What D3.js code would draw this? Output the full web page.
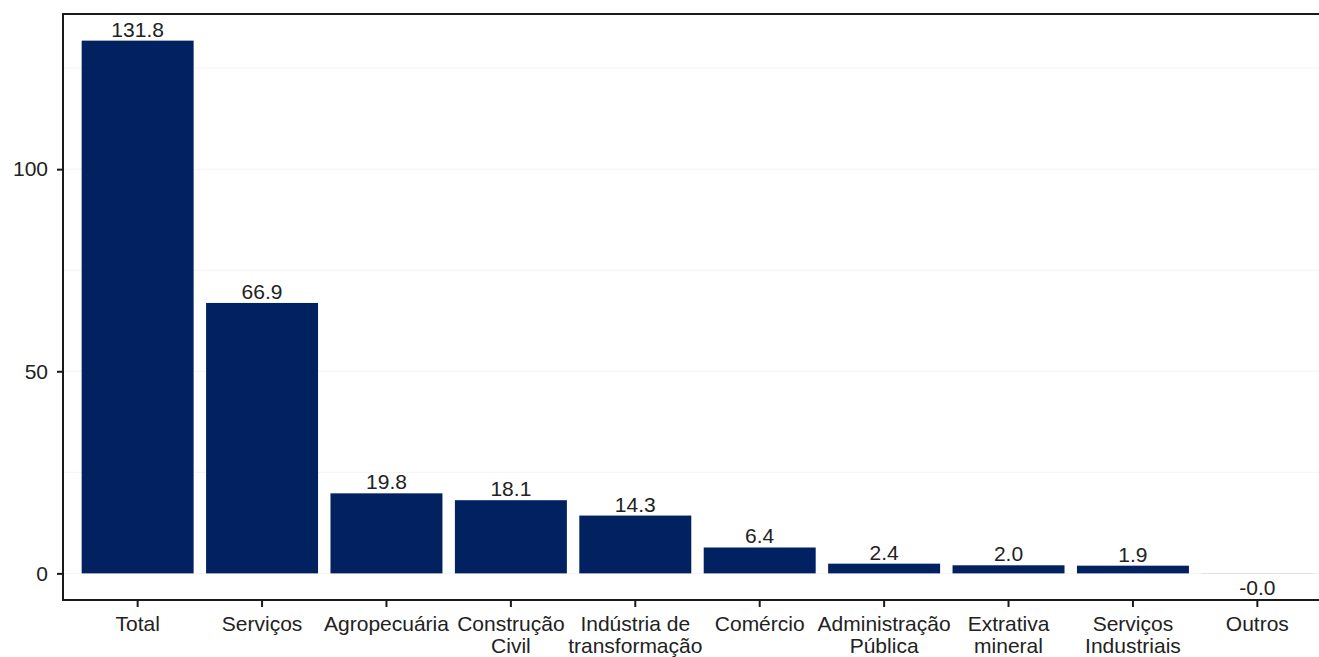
<!DOCTYPE html>
<html>
<head>
<meta charset="utf-8">
<script src="https://cdn.jsdelivr.net/npm/d3@7"></script>
<style>
    body { margin: 0; background: #fff; }
    svg { display: block; font-family: 'Liberation Sans', Arial, sans-serif; }
</style>
</head>
<body>
<svg id="chart" width="1319" height="657"></svg>
<script>
// Categories and values
var categories = ['Total', 'Serviços', 'Agropecuária', 'Construção\nCivil', 'Indústria de\ntransformação',
    'Comércio', 'Administração\nPública', 'Extrativa\nmineral', 'Serviços\nIndustriais', 'Outros'];
var values = [131.8, 66.9, 19.8, 18.1, 14.3, 6.4, 2.4, 2.0, 1.9, -0.02];
var yTicks = [0, 50, 100];
var yMinor = [25, 75, 125];

var svg = d3.select( '#chart' );
var panel = { left: 63, right: 1332, top: 14, bottom: 600 };
var barColor = '#022160';
var textColor = '#222';

var x = d3.scaleBand()
    .domain( categories )
    .range( [panel.left, panel.right] )
    .paddingInner( 0.1 )
    .paddingOuter( 0.15 );

var y = d3.scaleLinear()
    .domain( [-6.59, 138.39] )
    .range( [panel.bottom, panel.top] );

// faint grid lines
svg.append( 'g' )
    .selectAll( 'line' )
    .data( yMinor.concat( yTicks ) )
    .join( 'line' )
    .attr( 'x1', panel.left ).attr( 'x2', panel.right )
    .attr( 'y1', d => y( d ) ).attr( 'y2', d => y( d ) )
    .attr( 'stroke', '#f3f3f3' )
    .attr( 'stroke-width', 1 );

// bars
svg.append( 'g' )
    .selectAll( 'rect' )
    .data( values )
    .join( 'rect' )
    .attr( 'x', ( d, i ) => x( categories[i] ) )
    .attr( 'width', x.bandwidth() )
    .attr( 'y', d => y( Math.max( 0, d ) ) )
    .attr( 'height', d => Math.abs( y( d ) - y( 0 ) ) )
    .attr( 'fill', barColor );

// value labels
svg.append( 'g' )
    .selectAll( 'text' )
    .data( values )
    .join( 'text' )
    .attr( 'x', ( d, i ) => x( categories[i] ) + x.bandwidth() / 2 )
    .attr( 'y', d => d >= 0 ? y( d ) - 4 : y( 0 ) + 22 )
    .attr( 'text-anchor', 'middle' )
    .attr( 'font-size', 21 )
    .attr( 'fill', textColor )
    .text( d => d.toFixed( 1 ) );

// panel border
svg.append( 'rect' )
    .attr( 'x', panel.left ).attr( 'y', panel.top )
    .attr( 'width', panel.right - panel.left )
    .attr( 'height', panel.bottom - panel.top )
    .attr( 'fill', 'none' )
    .attr( 'stroke', '#1a1a1a' )
    .attr( 'stroke-width', 2 );

// y axis
var yAxis = svg.append( 'g' )
    .attr( 'transform', 'translate(' + panel.left + ',0)' )
    .call( d3.axisLeft( y ).tickValues( yTicks ).tickSize( 6 ).tickPadding( 9 ) );
yAxis.select( '.domain' ).remove();
yAxis.selectAll( '.tick line' ).attr( 'stroke', '#1a1a1a' ).attr( 'stroke-width', 2 );
yAxis.selectAll( '.tick text' )
    .attr( 'font-size', 21 )
    .attr( 'font-family', null )
    .attr( 'fill', textColor );

// x axis
var xAxis = svg.append( 'g' )
    .attr( 'transform', 'translate(0,' + panel.bottom + ')' )
    .call( d3.axisBottom( x ).tickSize( 7 ).tickFormat( '' ) );
xAxis.select( '.domain' ).remove();
xAxis.selectAll( '.tick line' ).attr( 'stroke', '#1a1a1a' ).attr( 'stroke-width', 2 );
xAxis.selectAll( '.tick' ).each( function ( d ) {
    var lines = d.split( '\n' );
    var t = d3.select( this ).append( 'text' )
        .attr( 'text-anchor', 'middle' )
        .attr( 'font-size', 21 )
        .attr( 'fill', textColor );
    lines.forEach( function ( line, k ) {
        t.append( 'tspan' )
            .attr( 'x', 0 )
            .attr( 'y', 31 + k * 22 )
            .text( line );
    } );
} );
</script>
</body>
</html>
